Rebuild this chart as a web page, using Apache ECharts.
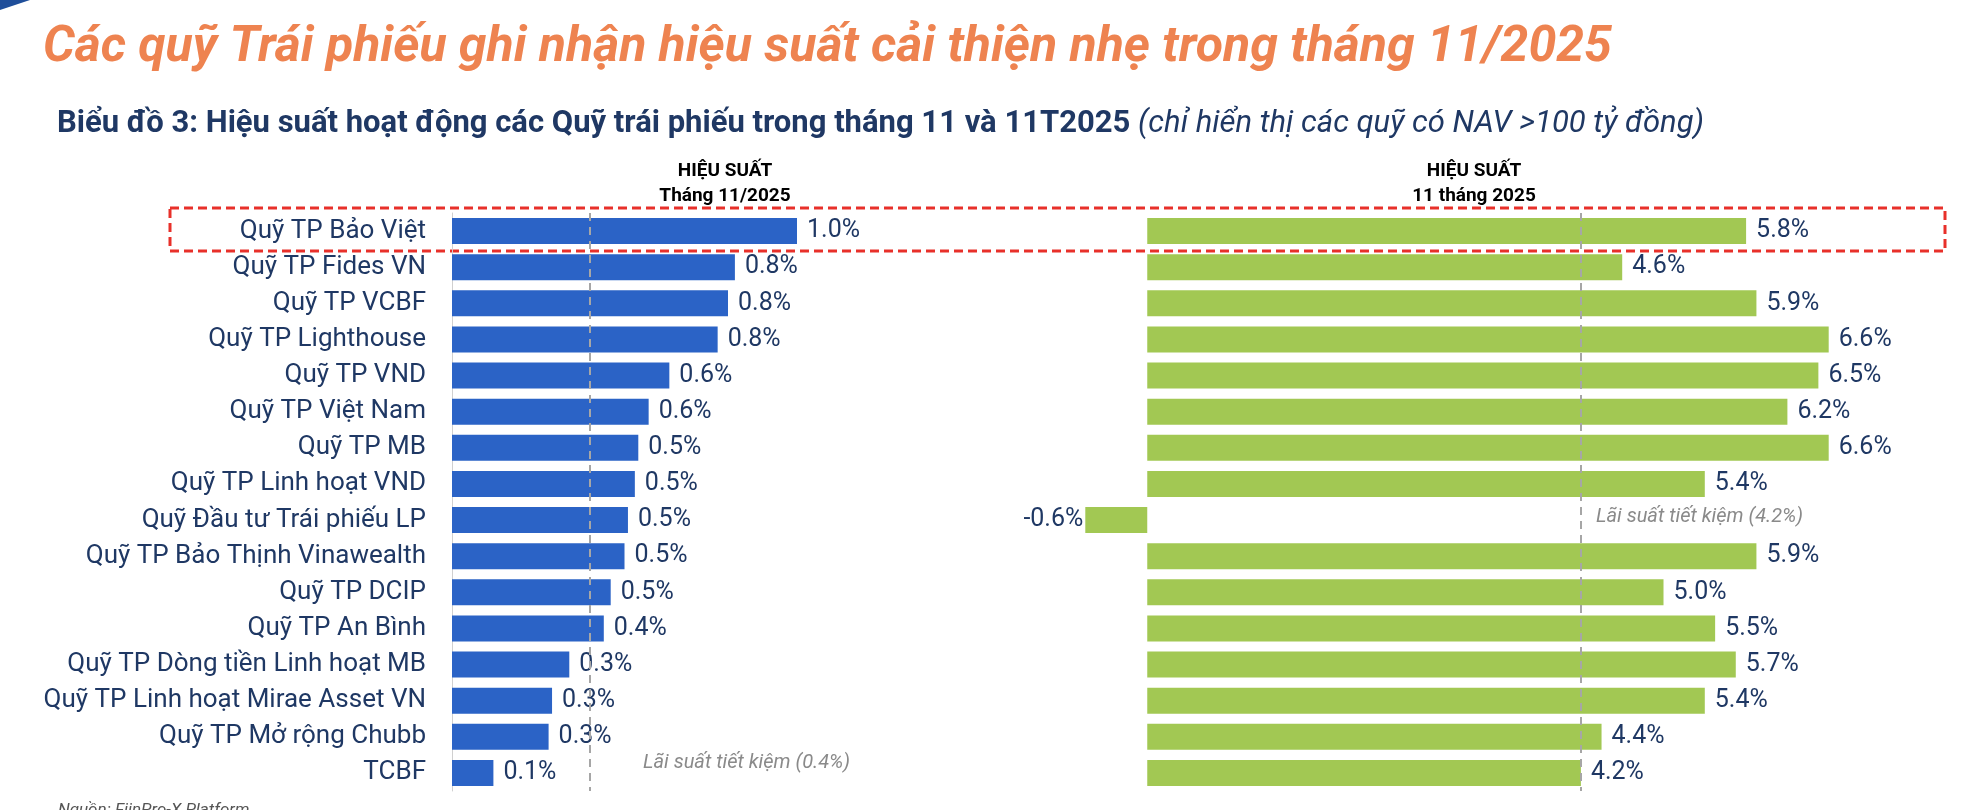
<!DOCTYPE html>
<html><head><meta charset="utf-8">
<script src="https://cdn.jsdelivr.net/npm/echarts@6/dist/echarts.min.js"></script>
<style>html,body{margin:0;padding:0;background:#fff}#c{width:1988px;height:810px}</style>
</head><body><div id="c"></div>
<script>
const categories = ["Quỹ TP Bảo Việt","Quỹ TP Fides VN","Quỹ TP VCBF","Quỹ TP Lighthouse","Quỹ TP VND","Quỹ TP Việt Nam","Quỹ TP MB","Quỹ TP Linh hoạt VND","Quỹ Đầu tư Trái phiếu LP","Quỹ TP Bảo Thịnh Vinawealth","Quỹ TP DCIP","Quỹ TP An Bình","Quỹ TP Dòng tiền Linh hoạt MB","Quỹ TP Linh hoạt Mirae Asset VN","Quỹ TP Mở rộng Chubb","TCBF"];
const monthValues = [1.0,0.82,0.80,0.77,0.63,0.57,0.54,0.53,0.51,0.50,0.46,0.44,0.34,0.29,0.28,0.12];
const ytdValues = [5.8,4.6,5.9,6.6,6.5,6.2,6.6,5.4,-0.6,5.9,5.0,5.5,5.7,5.4,4.4,4.2];
const savingsMonth = 0.4, savingsYtd = 4.2;
const navy = '#1F3864', F = 'Roboto';
const chart = echarts.init(document.getElementById('c'));
const lbl = {show:true, color:navy, fontFamily:F, fontSize:25, formatter:p=>p.value.toFixed(1)+'%', distance:10};
chart.setOption({
  animation:false,
  title:[
    {text:'Các quỹ Trái phiếu ghi nhận hiệu suất cải thiện nhẹ trong tháng 11/2025', left:38, top:18,
     textStyle:{color:'#EE8350', fontFamily:F, fontSize:50, fontWeight:'bold', fontStyle:'italic'}},
    {text:'{b|Biểu đồ 3: Hiệu suất hoạt động các Quỹ trái phiếu trong tháng 11 và 11T2025 }{i|(chỉ hiển thị các quỹ có NAV >100 tỷ đồng)}', left:52, top:104,
     textStyle:{rich:{b:{color:navy,fontFamily:F,fontSize:31,fontWeight:'bold'},i:{color:navy,fontFamily:F,fontSize:31,fontStyle:'italic',fontWeight:'normal'}}}},
    {text:'HIỆU SUẤT\nTháng 11/2025', left:720, top:154, textAlign:'center',
     textStyle:{color:'#000',fontFamily:F,fontSize:19,fontWeight:'bold',lineHeight:25}},
    {text:'HIỆU SUẤT\n11 tháng 2025', left:1469, top:154, textAlign:'center',
     textStyle:{color:'#000',fontFamily:F,fontSize:19,fontWeight:'bold',lineHeight:25}}
  ],
  grid:[{left:452, width:414, top:213, bottom:19},{left:1044, width:826, top:213, bottom:19}],
  xAxis:[{gridIndex:0,type:'value',min:0,max:1.2,show:false},{gridIndex:1,type:'value',min:-1,max:7,show:false}],
  yAxis:[
    {gridIndex:0,type:'category',data:categories,inverse:true,axisTick:{show:false},
     axisLine:{show:true,lineStyle:{color:'#d0d0d0',width:1}},
     axisLabel:{color:navy,fontFamily:F,fontSize:26,margin:26}},
    {gridIndex:1,type:'category',data:categories,inverse:true,show:false}
  ],
  series:[
    {type:'bar',xAxisIndex:0,yAxisIndex:0,data:monthValues,barWidth:26,itemStyle:{color:'#2B63C6'},
     label:Object.assign({position:'right'},lbl),
     markLine:{silent:true,symbol:'none',label:{show:false},lineStyle:{color:'#a6a6a6',type:[8,6],width:2},data:[{xAxis:savingsMonth}]}},
    {type:'bar',xAxisIndex:1,yAxisIndex:1,data:ytdValues.map(v=>({value:v,label:{position:v<0?'left':'right',distance:v<0?2:10}})),barWidth:26,itemStyle:{color:'#A2C853'},
     label:lbl,
     markLine:{silent:true,symbol:'none',label:{show:false},lineStyle:{color:'#a6a6a6',type:[8,6],width:2},data:[{xAxis:savingsYtd}]}}
  ],
  graphic:[
    {type:'rect',shape:{x:170,y:208,width:1775,height:43},style:{fill:'none',stroke:'#E8302A',lineWidth:3,lineDash:[9,5]}},
    {type:'text',x:643,y:753,style:{text:'Lãi suất tiết kiệm ('+savingsMonth.toFixed(1)+'%)',fill:'#8a8a8a',font:'italic 20px Roboto'}},
    {type:'text',x:1596,y:507,style:{text:'Lãi suất tiết kiệm ('+savingsYtd.toFixed(1)+'%)',fill:'#8a8a8a',font:'italic 20px Roboto'}},
    {type:'text',x:58,y:802,style:{text:'Nguồn: FiinPro-X Platform',fill:'#555',font:'italic 17px Roboto'}},
    {type:'polygon',shape:{points:[[0,0],[30,0],[0,10]]},style:{fill:'#1F4E9A'}}
  ]
});
</script></body></html>
